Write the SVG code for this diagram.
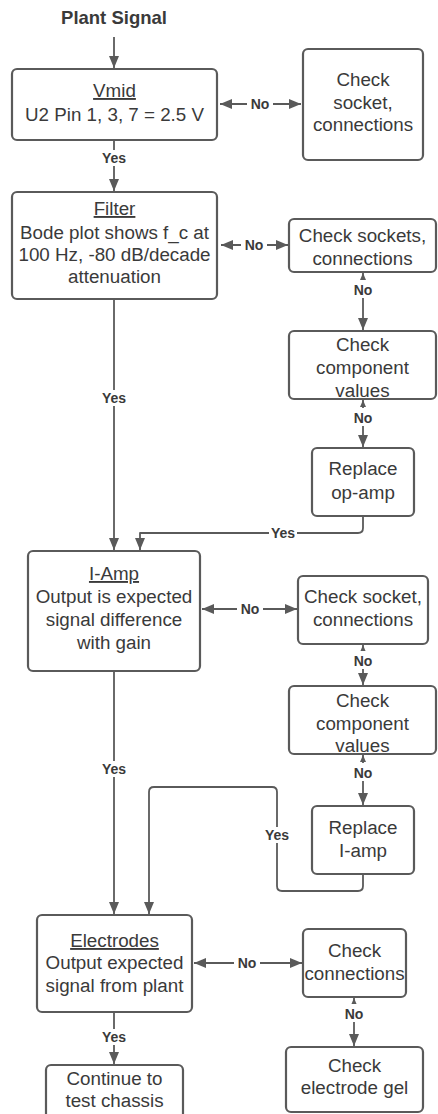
<svg xmlns="http://www.w3.org/2000/svg" width="438" height="1114" viewBox="0 0 438 1114">
  <defs>
    <marker id="arrow" viewBox="0 0 12 10" refX="12" refY="5" markerWidth="12" markerHeight="10" markerUnits="userSpaceOnUse" orient="auto-start-reverse">
      <path d="M0,0 L12,5 L0,10 Z" fill="#5a5a5a"/>
    </marker>
    <marker id="tiny" viewBox="0 0 7 6" refX="7" refY="3" markerWidth="7" markerHeight="6" markerUnits="userSpaceOnUse" orient="auto-start-reverse">
      <path d="M0,0 L7,3 L0,6 Z" fill="#5a5a5a"/>
    </marker>
    <style>
      .box { fill: #ffffff; stroke: #5a5a5a; stroke-width: 2.2; }
      .t { font-family: "Liberation Sans", Arial, sans-serif; font-size: 18.8px; fill: #3a3a3a; text-anchor: middle; }
      .u { text-decoration: underline; }
      .title { font-family: "Liberation Sans", Arial, sans-serif; font-size: 18.5px; font-weight: bold; fill: #3a3a3a; text-anchor: middle; }
      .edge { fill: none; stroke: #5a5a5a; stroke-width: 1.8; stroke-linejoin: round; }
      .lbl { font-family: "Liberation Sans", Arial, sans-serif; font-size: 14px; font-weight: bold; fill: #3a3a3a; text-anchor: middle; }
      .bg { fill: #ffffff; }
    </style>
  </defs>

  <rect width="438" height="1114" fill="#ffffff"/>

  <!-- connectors -->
  <g id="connectors">
    <line class="edge" x1="114" y1="37" x2="114" y2="68" marker-end="url(#arrow)"/>
    <line class="edge" x1="114" y1="140" x2="114" y2="191" marker-end="url(#arrow)"/>
    <line class="edge" x1="220" y1="104" x2="301" y2="104" marker-start="url(#arrow)" marker-end="url(#arrow)"/>

    <line class="edge" x1="221" y1="245" x2="288" y2="245" marker-start="url(#arrow)" marker-end="url(#arrow)"/>
    <line class="edge" x1="363" y1="273" x2="363" y2="330" marker-start="url(#tiny)" marker-end="url(#arrow)"/>
    <line class="edge" x1="363" y1="400" x2="363" y2="447" marker-start="url(#tiny)" marker-end="url(#arrow)"/>
    <path class="edge" d="M363 516 V528 Q363 533 358 533 H140 V550" marker-end="url(#arrow)"/>
    <line class="edge" x1="114" y1="299" x2="114" y2="550" marker-end="url(#arrow)"/>

    <line class="edge" x1="202" y1="609" x2="297" y2="609" marker-start="url(#arrow)" marker-end="url(#arrow)"/>
    <line class="edge" x1="363" y1="645" x2="363" y2="685" marker-start="url(#tiny)" marker-end="url(#arrow)"/>
    <line class="edge" x1="363" y1="755" x2="363" y2="805" marker-start="url(#tiny)" marker-end="url(#arrow)"/>
    <path class="edge" d="M363 874 V886 Q363 891 358 891 H282 Q277 891 277 886 V792 Q277 787 272 787 H154 Q149 787 149 792 V914" marker-end="url(#arrow)"/>
    <line class="edge" x1="114" y1="671" x2="114" y2="914" marker-end="url(#arrow)"/>

    <line class="edge" x1="194" y1="963" x2="302" y2="963" marker-start="url(#arrow)" marker-end="url(#arrow)"/>
    <line class="edge" x1="354" y1="998" x2="354" y2="1046" marker-start="url(#tiny)" marker-end="url(#arrow)"/>
    <line class="edge" x1="114" y1="1012" x2="114" y2="1064" marker-end="url(#arrow)"/>

    <!-- labels on connectors -->
    <rect class="bg" x="247" y="96" width="26" height="16"/>
    <text class="lbl" x="260" y="109">No</text>
    <rect class="bg" x="100" y="150" width="28" height="16"/>
    <text class="lbl" x="114" y="163">Yes</text>

    <rect class="bg" x="241" y="237" width="26" height="16"/>
    <text class="lbl" x="254" y="250">No</text>
    <rect class="bg" x="351" y="280" width="24" height="18"/>
    <text class="lbl" x="363" y="295">No</text>
    <rect class="bg" x="351" y="408" width="24" height="18"/>
    <text class="lbl" x="363" y="423">No</text>
    <rect class="bg" x="269" y="525" width="28" height="16"/>
    <text class="lbl" x="283" y="538">Yes</text>
    <rect class="bg" x="100" y="390" width="28" height="16"/>
    <text class="lbl" x="114" y="403">Yes</text>

    <rect class="bg" x="237" y="601" width="26" height="16"/>
    <text class="lbl" x="250" y="614">No</text>
    <rect class="bg" x="351" y="651" width="24" height="18"/>
    <text class="lbl" x="363" y="666">No</text>
    <rect class="bg" x="351" y="763" width="24" height="18"/>
    <text class="lbl" x="363" y="778">No</text>
    <rect class="bg" x="263" y="827" width="28" height="16"/>
    <text class="lbl" x="277" y="840">Yes</text>
    <rect class="bg" x="100" y="761" width="28" height="16"/>
    <text class="lbl" x="114" y="774">Yes</text>

    <rect class="bg" x="234" y="955" width="26" height="16"/>
    <text class="lbl" x="247" y="968">No</text>
    <rect class="bg" x="342" y="1004" width="24" height="18"/>
    <text class="lbl" x="354" y="1019">No</text>
    <rect class="bg" x="100" y="1029" width="28" height="16"/>
    <text class="lbl" x="114" y="1042">Yes</text>
  </g>

  <!-- start label -->
  <g id="plant-signal">
    <text class="title" x="114" y="24">Plant Signal</text>
  </g>

  <!-- main column -->
  <g id="vmid">
    <rect class="box" x="12" y="69" width="205" height="71" rx="5"/>
    <text class="t u" x="114.5" y="97">Vmid</text>
    <text class="t" x="114.5" y="121">U2 Pin 1, 3, 7 = 2.5 V</text>
  </g>

  <g id="filter">
    <rect class="box" x="12" y="192" width="205" height="107" rx="5"/>
    <text class="t u" x="114.5" y="215">Filter</text>
    <text class="t" x="114.5" y="239">Bode plot shows f_c at</text>
    <text class="t" x="114.5" y="261">100 Hz, -80 dB/decade</text>
    <text class="t" x="114.5" y="283">attenuation</text>
  </g>

  <g id="iamp">
    <rect class="box" x="28" y="551" width="172" height="120" rx="5"/>
    <text class="t u" x="114" y="580">I-Amp</text>
    <text class="t" x="114" y="603">Output is expected</text>
    <text class="t" x="114" y="626">signal difference</text>
    <text class="t" x="114" y="649">with gain</text>
  </g>

  <g id="electrodes">
    <rect class="box" x="37" y="915" width="155" height="97" rx="5"/>
    <text class="t u" x="114.5" y="947">Electrodes</text>
    <text class="t" x="114.5" y="969">Output expected</text>
    <text class="t" x="114.5" y="992">signal from plant</text>
  </g>

  <g id="continue">
    <rect class="box" x="46" y="1065" width="137" height="62" rx="5"/>
    <text class="t" x="114.5" y="1085">Continue to</text>
    <text class="t" x="114.5" y="1107">test chassis</text>
  </g>

  <!-- checks column -->
  <g id="check-socket-vmid">
    <rect class="box" x="303" y="49" width="120" height="111" rx="5"/>
    <text class="t" x="363" y="86">Check</text>
    <text class="t" x="363" y="109">socket,</text>
    <text class="t" x="363" y="131">connections</text>
  </g>

  <g id="check-sockets-filter">
    <rect class="box" x="289" y="219" width="147" height="53" rx="5"/>
    <text class="t" x="362.5" y="242">Check sockets,</text>
    <text class="t" x="362.5" y="265">connections</text>
  </g>

  <g id="check-components-filter">
    <rect class="box" x="289" y="331" width="147" height="68" rx="5"/>
    <text class="t" x="362.5" y="351">Check</text>
    <text class="t" x="362.5" y="374">component</text>
    <text class="t" x="362.5" y="397">values</text>
  </g>

  <g id="replace-opamp">
    <rect class="box" x="312" y="448" width="102" height="68" rx="5"/>
    <text class="t" x="363" y="475">Replace</text>
    <text class="t" x="363" y="499">op-amp</text>
  </g>

  <g id="check-socket-iamp">
    <rect class="box" x="298" y="576" width="130" height="68" rx="5"/>
    <text class="t" x="363" y="603">Check socket,</text>
    <text class="t" x="363" y="626">connections</text>
  </g>

  <g id="check-components-iamp">
    <rect class="box" x="289" y="686" width="147" height="68" rx="5"/>
    <text class="t" x="362.5" y="707">Check</text>
    <text class="t" x="362.5" y="730">component</text>
    <text class="t" x="362.5" y="752">values</text>
  </g>

  <g id="replace-iamp">
    <rect class="box" x="312" y="806" width="102" height="68" rx="5"/>
    <text class="t" x="363" y="834">Replace</text>
    <text class="t" x="363" y="857">I-amp</text>
  </g>

  <g id="check-connections">
    <rect class="box" x="303" y="929" width="103" height="68" rx="5"/>
    <text class="t" x="354.5" y="957">Check</text>
    <text class="t" x="354.5" y="980">connections</text>
  </g>

  <g id="check-gel">
    <rect class="box" x="286" y="1047" width="137" height="65" rx="5"/>
    <text class="t" x="354.5" y="1072">Check</text>
    <text class="t" x="354.5" y="1094">electrode gel</text>
  </g>
</svg>
